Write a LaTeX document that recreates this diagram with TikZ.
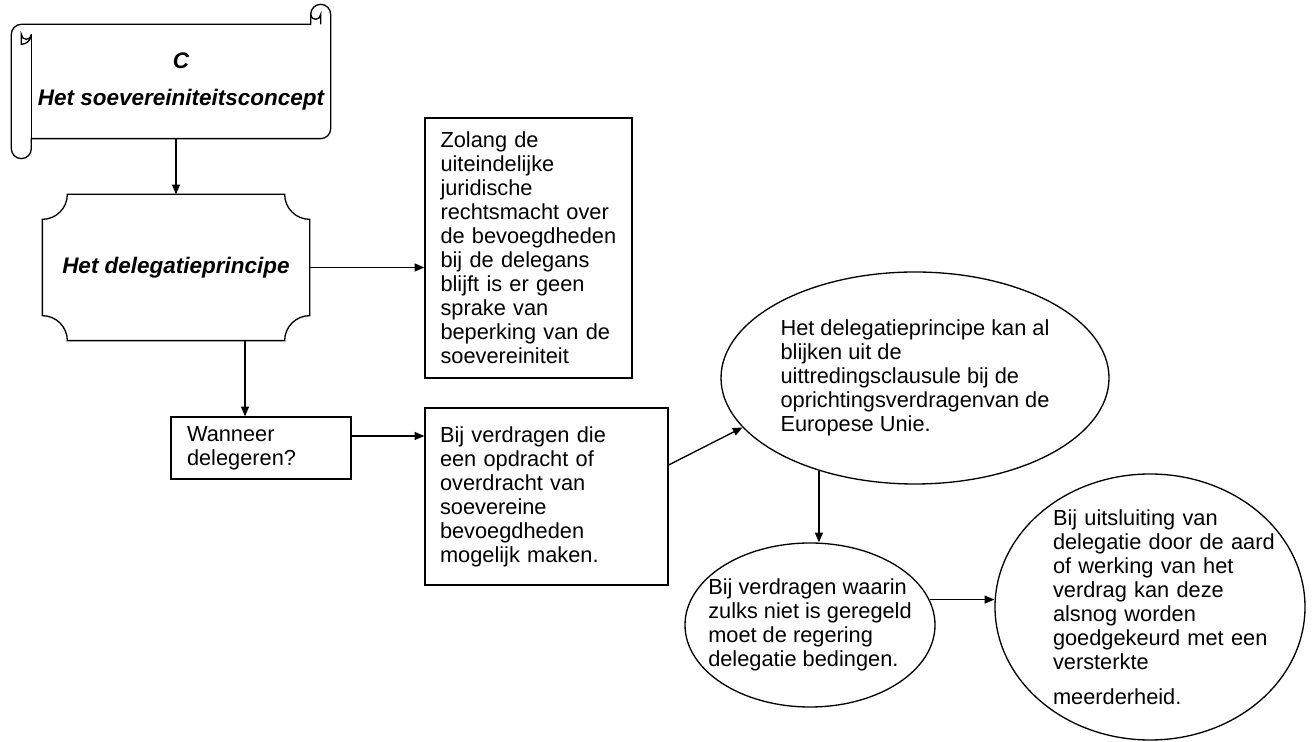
\documentclass[tikz,border=0pt]{standalone}
\usepackage{fontspec}
\setmainfont{Liberation Sans}
\usetikzlibrary{arrows.meta,shapes.geometric,calc}

\begin{document}
\begin{tikzpicture}[
  x=1cm, y=1cm,
  line width=0.75pt,
  txt/.style={font=\fontsize{12.4}{13.66}\selectfont},
  headtxt/.style={font=\fontsize{12.8}{13.66}\selectfont\bfseries\itshape,
                  inner sep=0pt},
  textbox/.style={txt, draw, align=left, inner sep=0pt},
  bubble/.style={txt, draw, ellipse, align=left, inner sep=-0.5cm},
  ar/.style={-{Triangle[length=5.5pt,width=4.5pt]}},
]

\useasboundingbox (0,0) rectangle (26.24,14.84);

% ---- scroll heading ----
\node[headtxt, align=center, minimum width=5.96cm, minimum height=2.26cm]
      (s) at (3.62,13.21) {C\\[7pt]Het soevereiniteitsconcept};

\draw ($(s.north west)+(-0.2,0)$) -- ($(s.north east)+(-0.4,0)$) -- ++(0,0.2)
      arc[start angle=180, end angle=0, radius=0.2]
      -- ($(s.south east)+(0,0.2)$)
      arc[start angle=0, end angle=-90, radius=0.2]
      -- (s.south west) -- ++(0,-0.2)
      arc[start angle=0, end angle=-180, radius=0.2]
      -- ($(s.north west)+(-0.4,-0.2)$)
      arc[start angle=180, end angle=90, radius=0.2] -- cycle;
\draw ($(s.north west)+(0,-0.2)$) -- (s.south west);
\draw ($(s.north west)+(-0.2,-0.4)$) arc[start angle=-90, end angle=0, radius=0.2]
      arc[start angle=0, end angle=-180, radius=0.1] -- cycle;
\draw ($(s.north east)+(-0.2,0)$) -- ++(0,0.2)
      arc[start angle=0, end angle=-180, radius=0.1];

% ---- plaque ----
\node[headtxt, minimum width=5.32cm, minimum height=2.9cm]
      (p) at (3.52,9.49) {Het delegatieprincipe};

\draw ($(p.north west)+(0.5,0)$) -- ($(p.north east)+(-0.5,0)$)
      arc[start angle=180, end angle=270, radius=0.5]
      -- ($(p.south east)+(0,0.5)$)
      arc[start angle=90, end angle=180, radius=0.5]
      -- ($(p.south west)+(0.5,0)$)
      arc[start angle=0, end angle=90, radius=0.5]
      -- ($(p.north west)+(0,-0.5)$)
      arc[start angle=270, end angle=360, radius=0.5] -- cycle;

% ---- text boxes ----
\node[textbox, minimum width=4.14cm, minimum height=5.2cm, text width=3.52cm]
      (b1) at (10.57,9.88)
      {Zolang de\\ uiteindelijke\\ juridische\\ rechtsmacht over\\
       de bevoegdheden\\ bij de delegans\\ blijft is er geen\\ sprake van\\
       beperking van de\\ soevereiniteit};

\node[textbox, minimum width=3.6cm, minimum height=1.24cm, text width=2.96cm]
      (w) at (5.22,5.88) {Wanneer\\ delegeren?};

\node[textbox, minimum width=4.86cm, minimum height=3.54cm, text width=4.26cm]
      (b2) at (10.93,4.91)
      {Bij verdragen die\\ een opdracht of\\ overdracht van\\ soevereine\\
       bevoegdheden\\ mogelijk maken.};

% ---- ellipses ----
\node[bubble, minimum width=7.76cm, minimum height=4.24cm] (e1) at (18.3,7.28)
      {Het delegatieprincipe kan al\\ blijken uit de\\ uittredingsclausule bij de\\
       oprichtingsverdragenvan de\\ Europese Unie.};

\node[bubble, minimum width=5cm, minimum height=3.28cm] (e2) at (16.2,2.34)
      {Bij verdragen waarin\\ zulks niet is geregeld\\ moet de regering\\
       delegatie bedingen.};

\node[bubble, minimum width=6.2cm, minimum height=5.32cm, text width=3.88cm]
      (e3) at (23.0,2.7)
      {Bij uitsluiting van\\ delegatie~door~de~aard\\ of werking van het\\
       verdrag kan deze\\ alsnog worden\\ goedgekeurd~met~een\\ versterkte\\[6pt]
       meerderheid.};

% ---- connectors ----
\coordinate (wtop) at ([xshift=-0.32cm]w.north);
\coordinate (wout) at ([yshift=0.24cm]w.east);
\coordinate (bout) at ([yshift=0.63cm]b2.east);

\draw[ar] (p.north |- s.south) -- (p.north);
\draw[ar] (p.east) -- (p.east -| b1.west);
\draw[ar] (wtop |- p.south) -- (wtop);
\draw[ar] (wout) -- (wout -| b2.west);
\draw[ar] (bout) -- (e1.196);
\draw[ar] (e1.224) -- (e1.224 |- e2.north);
\draw[ar] (e2.12) -- (e2.12 -| e3.west);

\end{tikzpicture}
\end{document}
